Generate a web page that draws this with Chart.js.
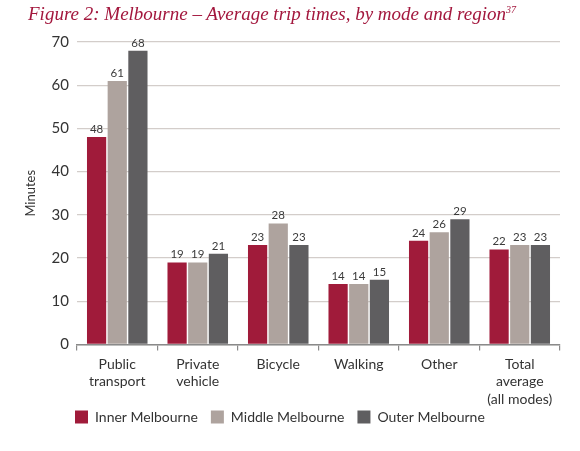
<!DOCTYPE html>
<html>
<head>
<meta charset="utf-8">
<script src="https://cdn.jsdelivr.net/npm/chart.js@4/dist/chart.umd.min.js"></script>
<style>
  body { margin: 0; background: #fff; }
  #wrap { position: relative; width: 580px; height: 451px; }
  #title {
    position: absolute; left: 28px; top: 3px;
    font-family: "Liberation Serif", serif; font-style: italic;
    font-size: 19px; color: #a3173d; white-space: nowrap;
  }
  #title sup { font-size: 10px; vertical-align: 7px; line-height: 0; }
  canvas { position: absolute; left: 0; top: 0; }
</style>
</head>
<body>
<div id="wrap">
  <canvas id="myChart" width="580" height="451"></canvas>
  <div id="title">Figure 2: Melbourne – Average trip times, by mode and region<sup>37</sup></div>
</div>
<script>
const categories = [
  ['Public', 'transport'],
  ['Private', 'vehicle'],
  'Bicycle',
  'Walking',
  'Other',
  ['Total', 'average', '(all modes)']
]
const innerMelbourne = [48, 19, 23, 14, 24, 22]
const middleMelbourne = [61, 19, 28, 14, 26, 23]
const outerMelbourne = [68, 21, 23, 15, 29, 23]
const yTicks = [0, 10, 20, 30, 40, 50, 60, 70]

const fontFam = 'Lato, "Open Sans", sans-serif'

// value labels above each bar
const barLabels = {
    id: 'barLabels',
    afterDatasetsDraw(chart) {
        const ctx = chart.ctx
        ctx.save()
        ctx.font = '11.5px ' + fontFam
        ctx.fillStyle = '#3a3a3a'
        ctx.textAlign = 'center'
        ctx.textBaseline = 'bottom'
        chart.data.datasets.forEach((ds, i) => {
            chart.getDatasetMeta(i).data.forEach((bar, j) => {
                ctx.fillText(ds.data[j], bar.x, bar.y - 2)
            })
        })
        ctx.restore()
    }
}

// nudge the legend so it starts under the plot and sits closer to the axis
const legendShift = {
    id: 'legendShift',
    afterLayout(chart) {
        const lg = chart.legend
        const w = lg.right - lg.left
        lg.left = 62
        lg.right = lg.left + w
        lg.top -= 16
        lg.bottom -= 16
    }
}

const data = {
    labels: categories,
    datasets: [{
        label: 'Inner Melbourne',
        backgroundColor: '#a01b3a',
        data: innerMelbourne,
    }, {
        label: 'Middle Melbourne',
        backgroundColor: '#aea39e',
        data: middleMelbourne,
    }, {
        label: 'Outer Melbourne',
        backgroundColor: '#5f5e60',
        data: outerMelbourne,
    }]
}

const config = {
    type: 'bar',
    data: data,
    plugins: [barLabels, legendShift],
    options: {
        responsive: false,
        animation: false,
        categoryPercentage: 0.77,
        barPercentage: 0.93,
        layout: { padding: { top: 42, right: 20, left: 0, bottom: 1 } },
        plugins: {
            legend: {
                position: 'bottom',
                align: 'start',
                labels: {
                    boxWidth: 13,
                    boxHeight: 13,
                    padding: 13,
                    color: '#333',
                    font: { family: fontFam, size: 14 }
                }
            },
            tooltip: { enabled: false }
        },
        scales: {
            x: {
                grid: {
                    drawOnChartArea: false,
                    drawTicks: true,
                    tickLength: 6,
                    color: '#8a8a8a',
                    lineWidth: 1.2
                },
                border: { display: true, color: '#8a8a8a', width: 1.5 },
                ticks: {
                    color: '#333',
                    padding: 5,
                    maxRotation: 0,
                    autoSkip: false,
                    font: { family: fontFam, size: 14, lineHeight: 1.25 }
                }
            },
            y: {
                min: 0,
                max: 70,
                afterFit(scale) { scale.width = 77 },
                afterBuildTicks(scale) { scale.ticks = yTicks.map(v => ({ value: v })) },
                grid: { color: '#d3cdca', lineWidth: 1.3, drawTicks: false },
                border: { display: false },
                ticks: {
                    color: '#333',
                    padding: 8,
                    font: { family: fontFam, size: 15 }
                },
                title: {
                    display: true,
                    text: 'Minutes',
                    color: '#333',
                    padding: { top: 23, bottom: 0 },
                    font: { family: fontFam, size: 13 }
                }
            }
        }
    }
}

const myChart = new Chart(document.getElementById('myChart'), config)
</script>
</body>
</html>
